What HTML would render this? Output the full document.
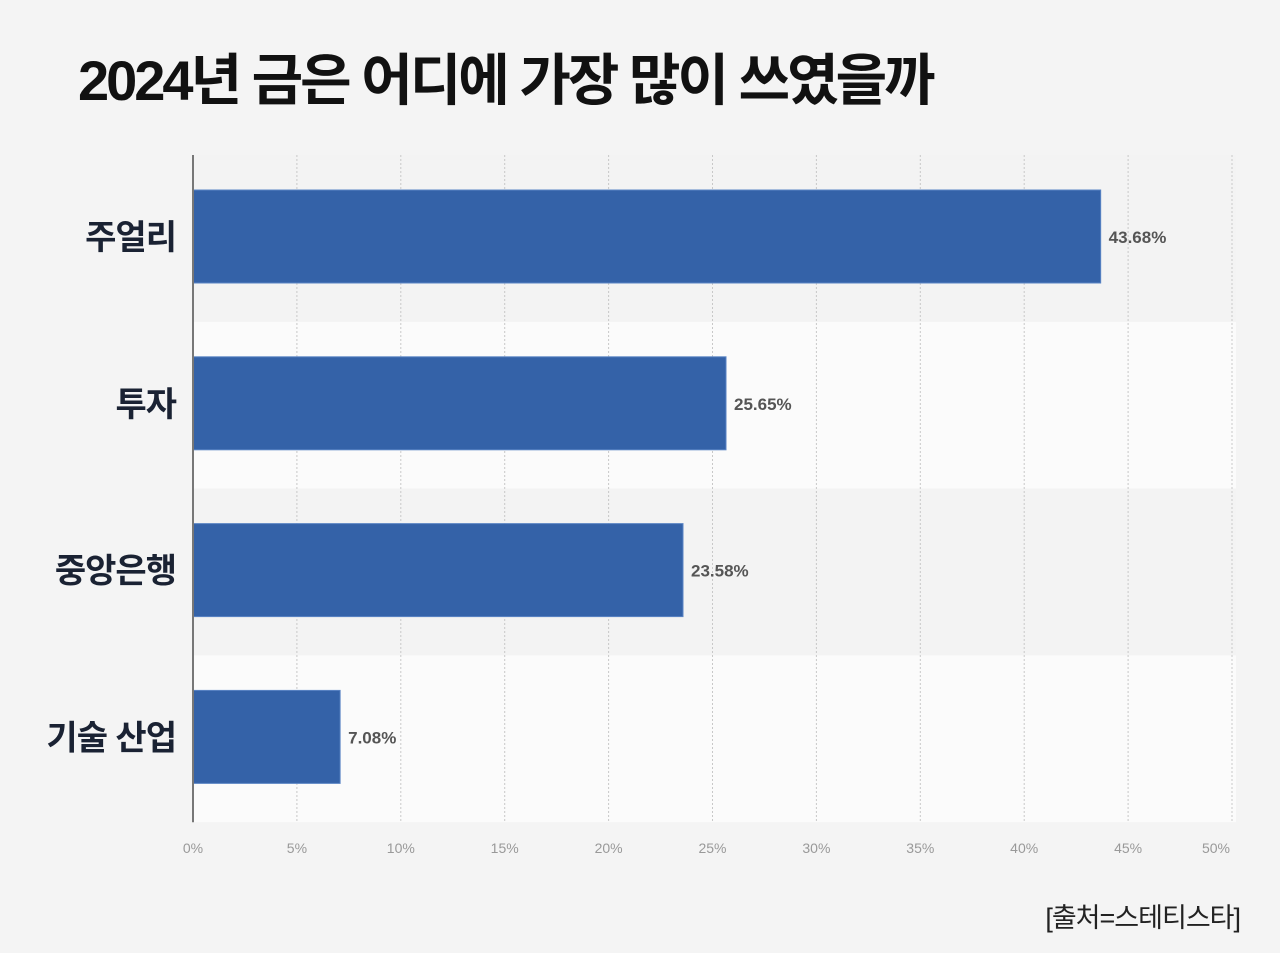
<!DOCTYPE html>
<html><head><meta charset="utf-8"><style>
body{margin:0;width:1280px;height:953px;background:#f4f4f4;font-family:"Liberation Sans","Noto Sans CJK KR",sans-serif;overflow:hidden;position:relative}
#title{position:absolute;left:78px;top:46px;font-size:56px;font-weight:bold;color:#111;letter-spacing:-3px;margin:0;line-height:70px}
#src{position:absolute;right:40px;top:896px;font-size:27px;color:#222;letter-spacing:-1px}
</style></head><body>
<h1 id="title">2024년 금은 어디에 가장 많이 쓰였을까</h1>
<svg id="chart" width="1280" height="953" style="position:absolute;left:0;top:0"></svg>
<div id="src">[출처=스테티스타]</div>
<script>
const categories=["주얼리","투자","중앙은행","기술 산업"];
const values=[43.68,25.65,23.58,7.08];
const valueLabels=["43.68%","25.65%","23.58%","7.08%"];
const ticks=[0,5,10,15,20,25,30,35,40,45,50];
const tickLabels=["0%","5%","10%","15%","20%","25%","30%","35%","40%","45%","50%"];
const NS="http://www.w3.org/2000/svg";
const svg=document.getElementById('chart');
const x0=193,scale=20.78,top0=155,band=166.8;
const X=v=>x0+v*scale;
const Y=i=>top0+i*band;
function mk(t,a){const e=document.createElementNS(NS,t);for(const k in a)e.setAttribute(k,a[k]);svg.appendChild(e);return e;}
categories.forEach((c,i)=>{
 const r=mk('rect',{x:x0,y:Y(i),width:1043,height:band,fill:i%2?'#fbfbfb':'#f3f3f3'});
 
 
});
ticks.forEach((t,i)=>{
 if(t>0){const l=mk('line',{x1:X(t),x2:X(t),y1:top0,y2:Y(4),stroke:'#c8c8c8','stroke-width':1,'stroke-dasharray':'2,2'});
 
 }
 let tx=X(t); if(t===50) tx-=16;
 const e=mk('text',{x:tx,y:853,'text-anchor':'middle','font-size':14,fill:'#999'});
 e.textContent=tickLabels[i];
 
 
});
categories.forEach((c,i)=>{
 const y=Y(i)+35;
 const b=mk('rect',{x:x0,y:y,width:X(values[i])-x0,height:93,fill:'#3462a8',stroke:'#5a84c4','stroke-width':1});
 
 
 const v=mk('text',{x:X(values[i])+8,y:y+53,'font-size':17,'font-weight':'bold',fill:'#555'});
 v.textContent=valueLabels[i];
 
 
 const l=mk('text',{x:176,y:y+59,'text-anchor':'end','font-size':34,'font-weight':'bold',fill:'#1a2233','letter-spacing':'-1'});
 l.textContent=c;
 
 
});
const ax=mk('line',{x1:x0,x2:x0,y1:top0,y2:Y(4),stroke:'#777','stroke-width':2});


</script>
</body></html>
